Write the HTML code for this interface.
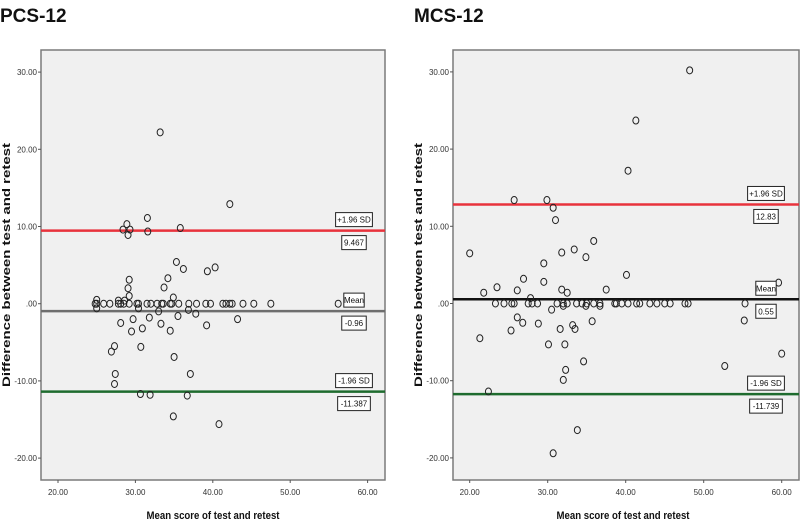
<!DOCTYPE html>
<html><head><meta charset="utf-8">
<style>
html,body{margin:0;padding:0;background:#fff;}
svg{display:block;font-family:"Liberation Sans",sans-serif;}
</style></head>
<body>
<svg id="chart" width="800" height="524" viewBox="0 0 800 524" xmlns="http://www.w3.org/2000/svg"></svg>
<script>
// ---- PCS-12 data ----
const pcsX = [33.2,42.2,31.55,28.9,28.4,29.3,29.05,31.6,35.8,35.3,36.2,39.3,40.3,34.2,29.2,29.05,33.7,29.2,34.9,
 25.0,24.8,25.9,26.7,27.8,28.1,28.5,29.2,30.2,30.4,31.5,32.0,32.8,33.4,33.6,34.5,34.7,35.6,36.9,37.9,39.1,39.7,41.3,41.7,42.2,42.5,43.9,45.3,47.5,56.2,
 25.0,27.8,28.6,
 25.0,30.4,33.0,36.85,37.8,31.8,35.5,43.2,28.1,29.7,30.9,33.3,29.5,34.5,39.2,30.7,27.3,26.9,35.0,27.4,37.1,27.3,30.65,31.9,36.7,34.9,40.8];
const pcsY = [22.2,12.9,11.1,10.3,9.6,9.6,8.9,9.35,9.8,5.4,4.5,4.2,4.7,3.3,3.1,2.0,2.1,1.0,0.8,
 0,0,0,0,0,0,0,0,0,0,0,0,0,0,0,0,0,0,0,0,0,0,0,0,0,0,0,0,0,0,
 0.5,0.4,0.4,
 -0.6,-0.6,-1.0,-0.8,-1.3,-1.8,-1.6,-2.0,-2.5,-2.0,-3.2,-2.6,-3.6,-3.5,-2.8,-5.6,-5.5,-6.2,-6.9,-9.1,-9.1,-10.4,-11.7,-11.8,-11.9,-14.6,-15.6];
const pcsLines = [9.467,-0.96,-11.387];
const pcsLineLabels = ["9.467","-0.96","-11.387"];
// ---- MCS-12 data ----
const mcsX = [48.2,41.3,40.3,25.7,29.9,30.7,31.0,35.9,20.0,33.4,31.8,34.9,29.5,40.1,26.9,29.5,23.5,59.6,37.5,31.8,26.1,32.5,21.8,27.8,
 23.3,24.4,25.4,25.7,27.5,28.0,28.7,31.2,32.0,32.5,33.7,34.4,35.0,35.9,36.7,38.6,38.8,39.5,40.3,41.4,41.8,43.1,44.0,45.0,45.7,47.6,48.0,55.3,
 30.5,32.0,34.9,36.7,26.1,55.2,35.7,26.8,28.8,33.2,33.5,31.6,25.3,21.3,30.1,32.2,60.0,34.6,52.7,32.3,32.0,22.4,33.8,30.7];
const mcsY = [30.2,23.7,17.2,13.4,13.4,12.4,10.8,8.1,6.5,7.0,6.6,6.0,5.2,3.7,3.2,2.8,2.1,2.7,1.8,1.8,1.7,1.4,1.4,0.7,
 0,0,0,0,0,0,0,0,0,0,0,0,0,0,0,0,0,0,0,0,0,0,0,0,0,0,0,0,
 -0.8,-0.3,-0.3,-0.3,-1.8,-2.2,-2.3,-2.5,-2.6,-2.8,-3.3,-3.3,-3.5,-4.5,-5.3,-5.3,-6.5,-7.5,-8.1,-8.6,-9.9,-11.4,-16.4,-19.4];
const mcsLines = [12.83,0.55,-11.739];
const mcsLineLabels = ["12.83","0.55","-11.739"];
const xTicks = [20,30,40,50,60];
const yTicks = [30,20,10,0,-10,-20];
const yTickLabels = ["30.00","20.00","10.00",".00","-10.00","-20.00"];
const xTickLabels = ["20.00","30.00","40.00","50.00","60.00"];
const lineNames = ["+1.96 SD","Mean","-1.96 SD"];

const NS="http://www.w3.org/2000/svg";
const svg=document.getElementById('chart');
function mk(tag,attrs,parent,txt){const e=document.createElementNS(NS,tag);for(const k in attrs)e.setAttribute(k,attrs[k]);if(txt!==undefined)e.textContent=txt;(parent||svg).appendChild(e);return e;}

function panel(cfg){
  const g=mk('g',{});
  
  
  const sx=v=>cfg.x20+(v-20)*cfg.xs;
  const sy=v=>cfg.y0-v*cfg.ys;
  const t=mk('text',{x:cfg.titleX,y:22,'font-size':19,'font-weight':'bold',fill:'#111'},g,cfg.title);
  
  
  const bg=mk('rect',{x:cfg.L,y:50,width:cfg.R-cfg.L,height:430,fill:'#f0f0f0',stroke:'#7a7a7a','stroke-width':1.5},g);
  
  
  yTicks.forEach((v,i)=>{
    const y=sy(v);
    mk('line',{x1:cfg.L-3,x2:cfg.L,y1:y,y2:y,stroke:'#555'},g);
    const tl=mk('text',{x:cfg.L-4,y:y+3,'font-size':8,'text-anchor':'end',fill:'#333'},g,yTickLabels[i]);
    
    
  });
  xTicks.forEach((v,i)=>{
    const x=sx(v);
    mk('line',{x1:x,x2:x,y1:480,y2:483,stroke:'#555'},g);
    const tl=mk('text',{x:x,y:495,'font-size':8,'text-anchor':'middle',fill:'#333'},g,xTickLabels[i]);
    
    
  });
  const yt=mk('text',{x:0,y:0,'font-size':11,'font-weight':'bold',fill:'#111','text-anchor':'middle',transform:`translate(${cfg.ytX},265) rotate(-90)`,textLength:244,lengthAdjust:'spacingAndGlyphs'},g,'Difference between test and retest');
  
  
  const xt=mk('text',{x:cfg.xtX,y:519,'font-size':11,'font-weight':'bold',fill:'#111','text-anchor':'middle',textLength:133,lengthAdjust:'spacingAndGlyphs'},g,'Mean score of test and retest');
  
  
  const colors=['#e8323c',cfg.meanColor,'#1e6b2e'];
  cfg.lines.forEach((v,i)=>{
    const y=sy(v);
    const ln=mk('line',{x1:cfg.L,x2:cfg.R,y1:y,y2:y,stroke:colors[i],'stroke-width':2.5},g);
    
    
  });
  cfg.xs_.forEach((xv,i)=>{
    const c=mk('ellipse',{cx:sx(xv),cy:sy(cfg.ys_[i]),rx:3,ry:3.5,fill:'none',stroke:'#222','stroke-width':1},g);
    
    
  });
  cfg.lines.forEach((v,i)=>{
    const y=sy(v);
    [[lineNames[i],y-11],[cfg.labels[i],y+12]].forEach(([s,cy])=>{
      const w=s.length*4.1+4;
      const bx=mk('rect',{x:cfg.lblX-w/2,y:cy-7,width:w,height:14,fill:'#fff',stroke:'#222','stroke-width':1},g);
      
      
      const tx=mk('text',{x:cfg.lblX,y:cy+3,'font-size':8,'text-anchor':'middle',fill:'#111'},g,s);
      
      
    });
  });
}
panel({name:'pcs-12-panel',title:'PCS-12',titleX:0,L:41,R:385,x20:58,xs:7.74,y0:303.7,ys:7.72,ytX:10,xtX:213,lblX:354,meanColor:'#6e6e6e',lines:pcsLines,labels:pcsLineLabels,xs_:pcsX,ys_:pcsY});
panel({name:'mcs-12-panel',title:'MCS-12',titleX:414,L:453,R:799,x20:469.7,xs:7.8,y0:303.5,ys:7.72,ytX:422,xtX:623,lblX:766,meanColor:'#111',lines:mcsLines,labels:mcsLineLabels,xs_:mcsX,ys_:mcsY});
</script>
</body></html>
